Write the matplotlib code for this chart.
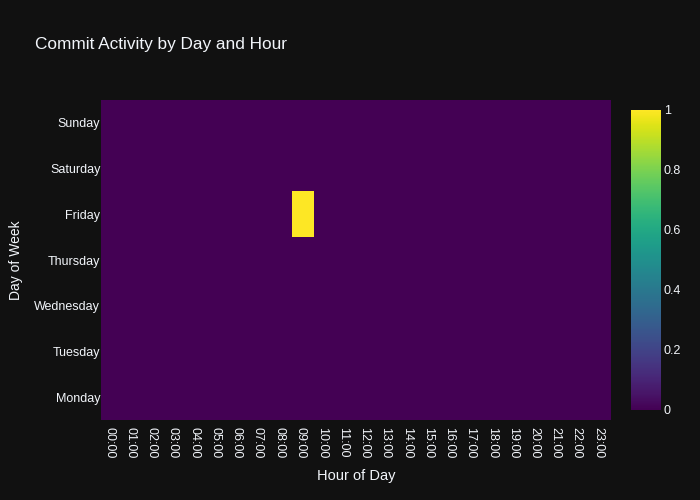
import matplotlib.pyplot as plt
import matplotlib.transforms as mtransforms
import numpy as np

days = ["Monday", "Tuesday", "Wednesday", "Thursday", "Friday", "Saturday", "Sunday"]
hours = [f"{h:02d}:00" for h in range(24)]
# commit counts per (day, hour); only Friday 09:00 has activity
commits = np.zeros((len(days), len(hours)))
commits[days.index("Friday"), hours.index("09:00")] = 1

bg = "#111111"
txt = "#f2f5fa"
plt.rcParams['font.family'] = ['Liberation Sans', 'DejaVu Sans']

fig = plt.figure(figsize=(7, 5), dpi=100, facecolor=bg)
ax = fig.add_axes([101 / 700, 80 / 500, 510 / 700, 320 / 500])
cax = fig.add_axes([631 / 700, 90 / 500, 30 / 700, 300 / 500])
ax.set_facecolor(bg)

mesh = ax.pcolormesh(np.arange(len(hours) + 1) - 0.5, np.arange(len(days) + 1) - 0.5,
                     commits, cmap='viridis', vmin=0, vmax=1)
ax.set_xlim(-0.5, len(hours) - 0.5)
ax.set_ylim(-0.5, len(days) - 0.5)

ax.set_xticks(range(len(hours)))
ax.set_xticklabels(hours, rotation=-90, color=txt, fontsize=9)
ax.set_yticks(range(len(days)))
ax.set_yticklabels(days, color=txt, fontsize=9)
ax.tick_params(axis='x', length=0, pad=5)
ax.tick_params(axis='y', length=0, pad=0.5)
shift = mtransforms.ScaledTranslation(-2.5 / 100, 0, fig.dpi_scale_trans)
for lbl in ax.get_xticklabels():
    lbl.set_transform(lbl.get_transform() + shift)
for s in ax.spines.values():
    s.set_visible(False)

ax.set_xlabel("Hour of Day", color=txt, fontsize=10.5, labelpad=8)
ax.set_ylabel("Day of Week", color=txt, fontsize=10, labelpad=8)

cb = fig.colorbar(mesh, cax=cax)
cb.outline.set_visible(False)
cb.set_ticks([0, 0.2, 0.4, 0.6, 0.8, 1])
cb.set_ticklabels(["0", "0.2", "0.4", "0.6", "0.8", "1"])
cax.tick_params(length=0, labelcolor=txt, labelsize=9, pad=2)

fig.text(35 / 700, 1 - 45 / 500, "Commit Activity by Day and Hour", color=txt,
         fontsize=12.4, va='center', ha='left')

fig.savefig("out.png", dpi=100, facecolor=bg)
